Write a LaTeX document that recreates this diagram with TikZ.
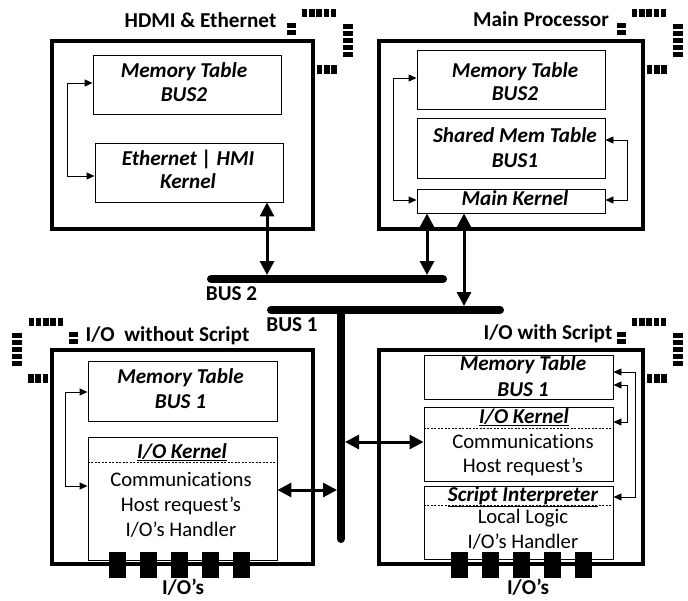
\documentclass[tikz,border=0pt]{standalone}
\usepackage{fontspec}
\setmainfont{Carlito}[Ligatures={TeX,NoCommon}]
\usetikzlibrary{arrows.meta}
\tikzset{
  outer/.style={draw, line width=3.2pt, inner sep=0pt},
  inbox/.style={draw, line width=0.9pt, inner sep=0pt},
  txt/.style={anchor=base, inner sep=0pt, font=\fontsize{20.7}{24}\selectfont},
  ttl/.style={anchor=base, inner sep=0pt, font=\fontsize{21.2}{24}\selectfont\bfseries},
  bi/.style={anchor=base, inner sep=0pt, font=\fontsize{21.2}{24}\selectfont\bfseries\itshape},
  link/.style={line width=0.9pt, {Triangle[length=8pt,width=7pt]}-{Triangle[length=8pt,width=7pt]}},
  bigarrow/.style={line width=3pt, {Triangle[length=14pt,width=14pt]}-{Triangle[length=14pt,width=14pt]}},
  bus/.style={line width=8pt, line cap=round},
  sep/.style={line width=0.9pt, dash pattern=on 2pt off 1.5pt},
  pinsicon/.pic={
    \fill (-26,-18) rectangle (-17,-13);
    \fill (-26,-11) rectangle (-17,-6);
    \foreach \k in {0,...,4} \fill (-11+7.2*\k,-32) rectangle ++(5.4,8);
    \foreach \k in {0,...,4} \fill (30,-17+7.1*\k) rectangle ++(10,5);
    \foreach \k in {0,...,2} \fill (4+7.2*\k,24) rectangle ++(5.4,9);
  }
}
\begin{document}
\begin{tikzpicture}[x=1pt,y=-1pt]
\useasboundingbox (0,0) rectangle (688,600);

% ---- outer modules ----
\node[outer, minimum width=261pt, minimum height=188pt] (hdmi)  at (182.5,135) {};
\node[outer, minimum width=264pt, minimum height=188pt] (mainp) at (511,135) {};
\node[outer, minimum width=261pt, minimum height=214pt] (iowo)  at (182.5,457) {};
\node[outer, minimum width=264pt, minimum height=214pt] (iow)   at (511,457) {};

% chip pin marks at the module corners
\pic at (313,41) {pinsicon};
\pic at (643,41) {pinsicon};
\pic[xscale=-1] at (52,350) {pinsicon};
\pic at (643,350) {pinsicon};

% module titles
\node[ttl] (thdmi) at (200.5,27) {HDMI \& Ethernet};
\node[ttl] (tmain) at (541,26.7) {Main Processor};
\node[ttl] (tiowo) at (167.5,341) {I/O\ \ without Script};
\node[ttl] (tiow)  at (548,339) {I/O with Script};

% ---- HDMI & Ethernet ----
\node[inbox, minimum width=188pt, minimum height=59pt] (hmem) at (187,84.5) {};
\node[inbox, minimum width=188pt, minimum height=59pt] (heth) at (189,172.5) {};
\node[bi] (hmem1) at (184,77) {Memory Table};
\node[bi] (hmem2) at (184,101) {BUS2};
\node[bi] (heth1) at (188,165) {Ethernet | HMI};
\node[bi] (heth2) at (188,188) {Kernel};

% ---- Main Processor ----
\node[inbox, minimum width=188pt, minimum height=59pt] (mmem) at (511,79.5) {};
\node[inbox, minimum width=188pt, minimum height=60pt] (mshr) at (511,148) {};
\node[inbox, minimum width=188pt, minimum height=24pt] (mker) at (511,201) {};
\node[bi] (mmem1) at (515,77) {Memory Table};
\node[bi] (mmem2) at (515,100) {BUS2};
\node[bi] (mshr1) at (515,142) {Shared Mem Table};
\node[bi] (mshr2) at (515,167) {BUS1};
\node[bi] (mker1) at (515,205) {Main Kernel};

% ---- I/O without Script ----
\node[inbox, minimum width=189pt, minimum height=60pt]  (lmem) at (182.5,391) {};
\node[inbox, minimum width=189pt, minimum height=123pt] (lker) at (182.5,498.5) {};
\node[bi] (lmem1) at (180.5,383) {Memory Table};
\node[bi] (lmem2) at (180.5,408) {BUS 1};
\node[bi] (lker1) at (182,458) {\underline{I/O Kernel}};
\draw[sep] ([yshift=-26pt]lker.north west) -- ([yshift=-26pt]lker.north east);
\node[txt] (lker2) at (181,486) {Communications};
\node[txt] (lker3) at (181,511) {Host request’s};
\node[txt] (lker4) at (181,536) {I/O’s Handler};

% ---- I/O with Script ----
\node[inbox, minimum width=189pt, minimum height=44pt] (rmem) at (518.5,377) {};
\node[inbox, minimum width=189pt, minimum height=74pt] (rker) at (518.5,444) {};
\node[inbox, minimum width=189pt, minimum height=73pt] (rscr) at (518.5,522.5) {};
\node[bi] (rmem1) at (523,370) {Memory Table};
\node[bi] (rmem2) at (523,396) {BUS 1};
\node[bi] (rker1) at (524,423) {\underline{I/O Kernel}};
\draw[sep] ([yshift=-22pt]rker.north west) -- ([yshift=-22pt]rker.north east);
\node[txt] (rker2) at (523,448) {Communications};
\node[txt] (rker3) at (523,472) {Host request’s};
\node[bi] (rscr1) at (523,501) {\underline{Script Interpreter}};
\draw[sep] ([yshift=-20pt]rscr.north west) -- ([yshift=-20pt]rscr.north east);
\node[txt] (rscr2) at (523,523) {Local Logic};
\node[txt] (rscr3) at (523,548) {I/O’s Handler};

% ---- internal links ----
\draw[link] ([yshift=1.5pt]hmem.west) -- ++(-25,0) |- ([yshift=-3.5pt]heth.west);
\draw[link] ([yshift=1.5pt]mmem.west) -- ++(-23,0) |- ([yshift=1pt]mker.west);
\draw[link] ([yshift=8pt]mshr.east) -- ++(22,0) |- ([yshift=1pt]mker.east);
\draw[link] ([yshift=-1pt]lmem.west) -- ++(-22,0) |- ([yshift=12.5pt]lker.west);
\draw[link] ([yshift=5pt]rmem.east) -- ++(22,0) |- ([yshift=25.5pt]rscr.east);
\draw[link] ([yshift=-8pt]rmem.east) -- ++(14,0) |- ([yshift=22pt]rker.east);

% ---- buses ----
\coordinate (b2w) at (211,279);
\coordinate (b2e) at (443,279);
\coordinate (b1w) at (271,310);
\coordinate (b1e) at (500,310);
\coordinate (vtop) at (341,310);
\coordinate (vbot) at (341,539);
\draw[bus] (b2w) -- (b2e);
\draw[bus] (b1w) -- (b1e);
\draw[bus] (vtop) -- (vbot);
\node[ttl] (tbus2) at (231.5,300) {BUS 2};
\node[ttl] (tbus1) at (292,331) {BUS 1};

% ---- bus connections ----
\coordinate (h2) at (267,275);
\coordinate (m2) at (427,275);
\coordinate (m1) at (464,306);
\coordinate (vl) at (337,490);
\coordinate (vr) at (345,442);
\draw[bigarrow] (heth.south -| h2) -- (h2);
\draw[bigarrow] (mker.south -| m2) -- (m2);
\draw[bigarrow] (mker.south -| m1) -- (m1);
\draw[bigarrow] (lker.east |- vl) -- (vl);
\draw[bigarrow] (vr) -- (rker.west |- vr);

% ---- I/O pins ----
\foreach \i in {0,...,4} \fill (108.5+31*\i,552) rectangle ++(17,26);
\foreach \i in {0,...,4} \fill (451+31*\i,552) rectangle ++(17,26);
\node[ttl] (tpl) at (183,594.5) {I/O’s};
\node[ttl] (tpr) at (528,594.5) {I/O’s};
\end{tikzpicture}
\end{document}
